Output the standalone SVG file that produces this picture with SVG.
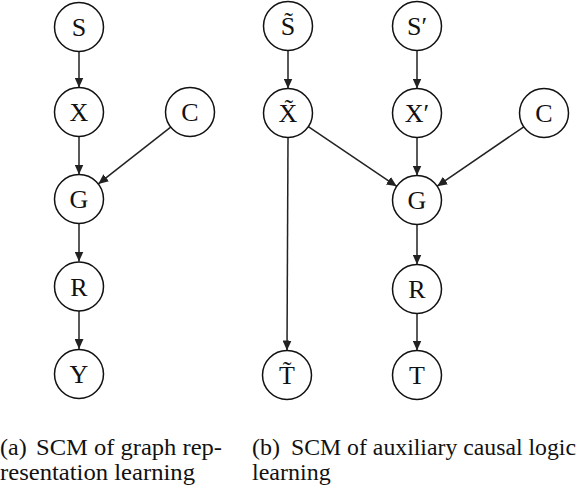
<svg xmlns="http://www.w3.org/2000/svg" width="578" height="488" viewBox="0 0 578 488">
<style>
.n circle{fill:#fff;stroke:#111;stroke-width:1.5}
.n text{font-family:'Liberation Serif','DejaVu Serif',serif;font-size:26px;text-anchor:middle;fill:#111}
.e line{stroke:#222;stroke-width:1.5;marker-end:url(#ah)}
.cap{font-family:'Liberation Serif','DejaVu Serif',serif;font-size:24px;fill:#111}
</style>
<defs>
<marker id="ah" markerUnits="userSpaceOnUse" markerWidth="10" markerHeight="9" refX="10" refY="4.5" orient="auto">
<path d="M0,0 L10,4.5 L0,9 z" fill="#222"/>
</marker>
</defs>
<rect width="578" height="488" fill="#fff"/>
<g id="connectors" class="e">
<line x1="79" y1="51.5" x2="79" y2="87.5"/>
<line x1="79" y1="136.5" x2="79" y2="174.5"/>
<line x1="170.7" y1="127.1" x2="98.3" y2="183.9"/>
<line x1="79" y1="223.5" x2="79" y2="261.5"/>
<line x1="79" y1="311" x2="79" y2="349"/>
<line x1="288" y1="50.5" x2="288" y2="88.5"/>
<line x1="417" y1="50.5" x2="417" y2="88.5"/>
<line x1="288" y1="137.5" x2="287" y2="350.5"/>
<line x1="308.3" y1="126.7" x2="396.7" y2="186.3"/>
<line x1="417" y1="137.5" x2="417" y2="175.5"/>
<line x1="523.8" y1="126.8" x2="437.2" y2="186.2"/>
<line x1="417" y1="224.5" x2="417" y2="264.5"/>
<line x1="417" y1="313.5" x2="417" y2="350.5"/>
</g>
<g id="S" class="n"><circle cx="79" cy="27" r="24.5"/><text x="79" y="36">S</text></g>
<g id="X" class="n"><circle cx="79" cy="112" r="24.5"/><text x="79" y="121">X</text></g>
<g id="C1" class="n"><circle cx="190" cy="112" r="24.5"/><text x="190" y="121">C</text></g>
<g id="G1" class="n"><circle cx="79" cy="199" r="24.5"/><text x="79" y="208">G</text></g>
<g id="R1" class="n"><circle cx="79" cy="286.5" r="24.5"/><text x="79" y="295.5">R</text></g>
<g id="Y" class="n"><circle cx="79" cy="374" r="24.5"/><text x="79" y="383">Y</text></g>
<g id="St" class="n"><circle cx="288" cy="26" r="24.5"/><text x="288" y="35">S̃</text></g>
<g id="Sp" class="n"><circle cx="417" cy="26" r="24.5"/><text x="417" y="35">S′</text></g>
<g id="Xt" class="n"><circle cx="288" cy="113" r="24.5"/><text x="288" y="122">X̃</text></g>
<g id="Xp" class="n"><circle cx="417" cy="113" r="24.5"/><text x="417" y="122">X′</text></g>
<g id="C2" class="n"><circle cx="544" cy="113" r="24.5"/><text x="544" y="122">C</text></g>
<g id="G2" class="n"><circle cx="417" cy="200" r="24.5"/><text x="417" y="209">G</text></g>
<g id="R2" class="n"><circle cx="417" cy="289" r="24.5"/><text x="417" y="298">R</text></g>
<g id="Tt" class="n"><circle cx="287" cy="375" r="24.5"/><text x="287" y="384">T̃</text></g>
<g id="T" class="n"><circle cx="417" cy="375" r="24.5"/><text x="417" y="384">T</text></g>
<g id="captions">
<text class="cap" x="0" y="455">(a)</text>
<text class="cap" x="36" y="455" textLength="186" lengthAdjust="spacingAndGlyphs">SCM of graph rep-</text>
<text class="cap" x="0" y="480" textLength="195" lengthAdjust="spacingAndGlyphs">resentation learning</text>
<text class="cap" x="252" y="455">(b)</text>
<text class="cap" x="291" y="455" textLength="285" lengthAdjust="spacingAndGlyphs">SCM of auxiliary causal logic</text>
<text class="cap" x="252" y="480">learning</text>
</g>
</svg>
